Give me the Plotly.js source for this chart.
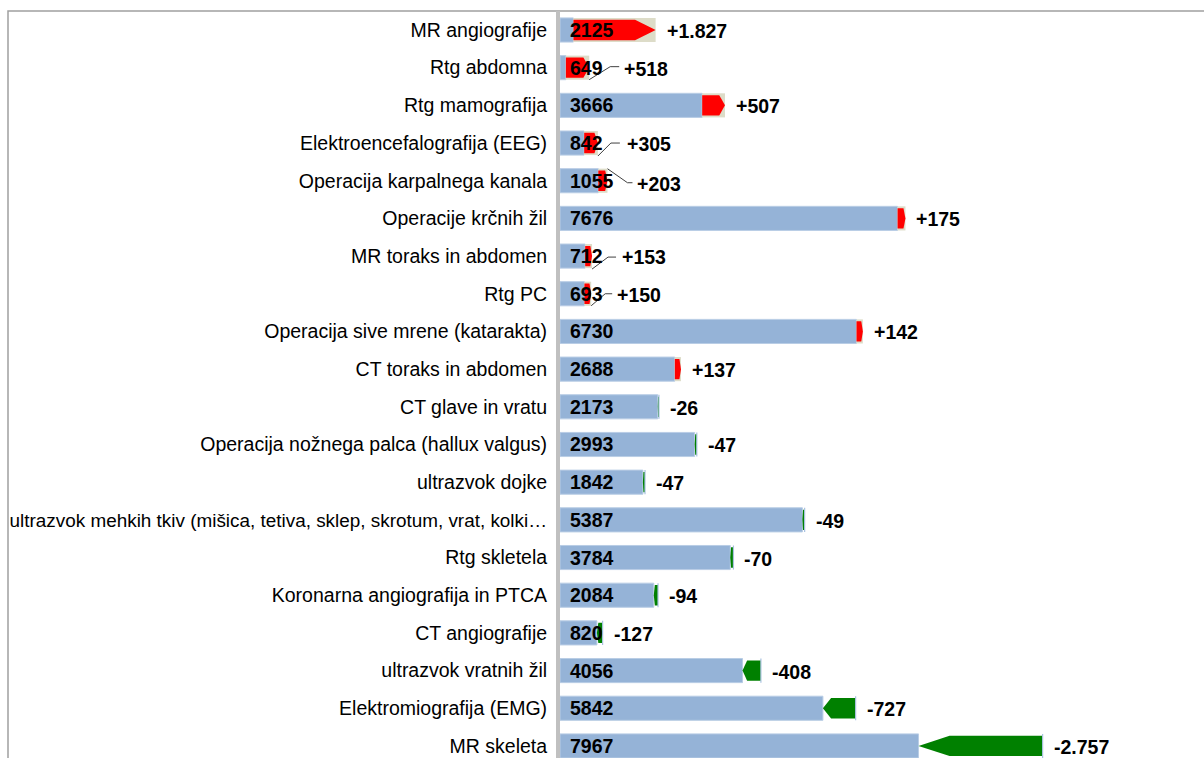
<!DOCTYPE html>
<html>
<head>
<meta charset="utf-8">
<script src="https://cdn.plot.ly/plotly-3.0.1.min.js"></script>
<style>html,body{margin:0;padding:0;background:#fff;}#chart{width:1204px;height:758px;}</style>
</head>
<body>
<div id="chart"></div>
<script>
const categories = [
  "MR angiografije",
  "Rtg abdomna",
  "Rtg mamografija",
  "Elektroencefalografija (EEG)",
  "Operacija karpalnega kanala",
  "Operacije krčnih žil",
  "MR toraks in abdomen",
  "Rtg PC",
  "Operacija sive mrene (katarakta)",
  "CT toraks in abdomen",
  "CT glave in vratu",
  "Operacija nožnega palca (hallux valgus)",
  "ultrazvok dojke",
  "ultrazvok mehkih tkiv (mišica, tetiva, sklep, skrotum, vrat, kolki…",
  "Rtg skletela",
  "Koronarna angiografija in PTCA",
  "CT angiografije",
  "ultrazvok vratnih žil",
  "Elektromiografija (EMG)",
  "MR skeleta"
];
const values = [2125, 649, 3666, 842, 1055, 7676, 712, 693, 6730, 2688, 2173, 2993, 1842, 5387, 3784, 2084, 820, 4056, 5842, 7967];
const changes = [1827, 518, 507, 305, 203, 175, 153, 150, 142, 137, -26, -47, -47, -49, -70, -94, -127, -408, -727, -2757];

// label placement tweaks (pixels) for labels with leader lines
const leaderStyle = {
  1: {dx: 24, dy: 0, pts: [[30, 1], [21, 1], [0, -12]]},
  3: {dx: 18, dy: 0, pts: [[22, 0], [13, 0], [0, -13]]},
  4: {dx: 19, dy: -2, pts: [[25, -2], [20, -2], [0, 12]]},
  6: {dx: 19, dy: 0, pts: [[24, -1], [16, -1], [0, -13]]},
  7: {dx: 15, dy: 0, pts: [[21, 0], [14, 0], [0, -12]]}
};

const FONT = "Liberation Sans, Arial, sans-serif";
const idx = categories.map((_, i) => i);
const prev = values.map((v, i) => v - changes[i]);
const blueLen = values.map((v, i) => Math.min(v, prev[i]));
const posIdx = idx.filter(i => changes[i] > 0);

function fmt(c) {
  const a = Math.abs(c).toString().replace(/\B(?=(\d{3})+(?!\d))/g, ".");
  return (c > 0 ? "+" : "-") + a;
}

const BAR_W = 0.64;
const AH = 0.27;

const traces = [
  {
    type: "bar", orientation: "h",
    y: idx, x: blueLen, base: 0, width: BAR_W,
    marker: {color: "#95B3D7", line: {color: "#B9CDE5", width: 1}},
    hoverinfo: "skip"
  },
  {
    type: "bar", orientation: "h",
    y: posIdx, x: posIdx.map(i => changes[i]), base: posIdx.map(i => prev[i]), width: BAR_W,
    marker: {color: "#DDDCC8", line: {width: 0}},
    hoverinfo: "skip"
  }
];

const shapes = [];
idx.forEach(i => {
  const c = changes[i], v = values[i], p = prev[i];
  const tip = v - 0.25 * c;
  const path = `M ${p},${i - AH} L ${tip},${i - AH} L ${v},${i} L ${tip},${i + AH} L ${p},${i + AH} Z`;
  shapes.push({
    type: "path", xref: "x", yref: "y", path: path,
    fillcolor: c > 0 ? "#FF0000" : "#008000",
    line: {width: 0}, layer: "above"
  });
  if (c < 0) {
    shapes.push({
      type: "line", xref: "x", yref: "y",
      x0: p, x1: p, y0: i - BAR_W / 2, y1: i + BAR_W / 2,
      line: {color: "#A9C2E0", width: 1.2}, layer: "above"
    });
  }
  const ls = leaderStyle[i];
  if (ls) {
    const d = ls.pts.map((q, k) => (k ? "L " : "M ") + q[0] + "," + q[1]).join(" ");
    shapes.push({
      type: "path", xref: "x", yref: "y",
      xsizemode: "pixel", ysizemode: "pixel",
      xanchor: Math.max(v, p), yanchor: i,
      path: d, line: {color: "#404040", width: 1}, layer: "above"
    });
  }
});

// outer chart frame
shapes.push({
  type: "rect", xref: "paper", yref: "paper",
  x0: (8 - 560) / 644, x1: 1.2, y0: -0.2, y1: 1,
  line: {color: "#A0A0A0", width: 1.5}, fillcolor: "rgba(0,0,0,0)", layer: "below"
});

const annotations = [];
idx.forEach(i => {
  annotations.push({
    x: 0, y: i, xref: "x", yref: "y", text: String(values[i]),
    showarrow: false, xanchor: "left", yanchor: "middle", xshift: 8,
    font: {family: FONT, size: 19.5, color: "#000", weight: "bold"}
  });
  const ls = leaderStyle[i] || {dx: 0, dy: 0};
  annotations.push({
    x: Math.max(values[i], prev[i]), y: i, xref: "x", yref: "y", text: fmt(changes[i]),
    showarrow: false, xanchor: "left", yanchor: "middle", xshift: 9 + ls.dx, yshift: ls.dy - 1,
    font: {family: FONT, size: 19.5, color: "#000", weight: "bold"}
  });
});

const tickText = categories.map(c => c.length > 50 ? `<span style="font-size:18.9px">${c}</span>` : c);

const layout = {
  width: 1204, height: 758,
  margin: {l: 560, r: 0, t: 11, b: 0, pad: 0},
  paper_bgcolor: "#fff", plot_bgcolor: "#fff",
  barmode: "overlay", showlegend: false,
  xaxis: {range: [0, 14310], visible: false, fixedrange: true},
  yaxis: {
    range: [19.32, -0.504], tickvals: idx, ticktext: tickText,
    showline: true, linecolor: "#C0C0C0", linewidth: 4,
    showgrid: false, zeroline: false,
    ticks: "outside", ticklen: 5, tickcolor: "rgba(0,0,0,0)",
    tickfont: {family: FONT, size: 19.5, color: "#000"}, fixedrange: true
  },
  shapes: shapes,
  annotations: annotations
};

Plotly.newPlot("chart", traces, layout, {displayModeBar: false, staticPlot: true});
</script>
</body>
</html>
